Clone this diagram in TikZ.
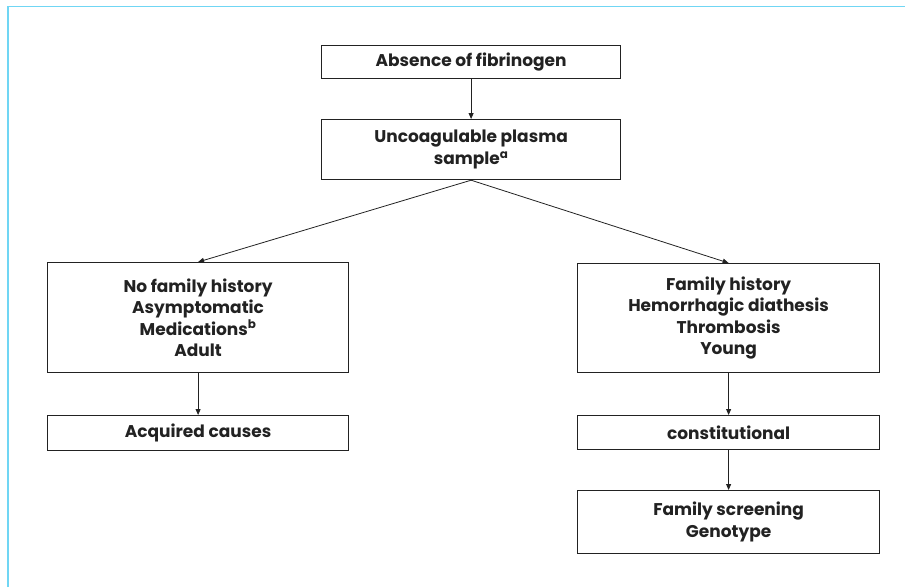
\documentclass[tikz,border=0pt]{standalone}
\usepackage{fontspec}
\setmainfont{Poppins}
\usepackage{tikz}
\usetikzlibrary{arrows.meta}
\usetikzlibrary{positioning}
\definecolor{framecyan}{RGB}{112,214,244}
\definecolor{inkgray}{RGB}{34,34,34}

\begin{document}
\begin{tikzpicture}[x=1pt,y=-1pt,
        box/.style={draw=inkgray, line width=1.2pt, fill=white, text=inkgray,
            font=\bfseries\fontsize{17}{21.5}\selectfont, align=center,
            inner sep=0pt, anchor=north west},
        link/.style={draw=inkgray, line width=0.8pt, -{Triangle[length=6pt,width=5pt]}}]
        \useasboundingbox (0,0) rectangle (905,587);
        \draw[framecyan, line width=1.6pt] (8,587) -- (8,6.5) -- (905,6.5);
        \node[box, minimum width=299pt, minimum height=33pt] (absence) at (321,45) {Absence of fibrinogen};
        \node[box, minimum width=299pt, minimum height=60pt] (sample) at (321,119) {Uncoagulable plasma\\sample\textsuperscript{a}};
        \node[box, minimum width=301pt, minimum height=110pt] (nohist) at (47,262) {No family history\\Asymptomatic\\Medications\textsuperscript{b}\\Adult};
        \node[box, minimum width=301pt, minimum height=35pt] (acquired) at (47,415) {Acquired causes};
        \node[box, minimum width=302pt, minimum height=109pt] (famhist) at (577,263) {Family history\\Hemorrhagic diathesis\\Thrombosis\\Young};
        \node[box, minimum width=302pt, minimum height=34pt] (constit) at (577,415) {constitutional};
        \node[box, minimum width=302pt, minimum height=63pt] (screening) at (577,490) {Family screening\\Genotype};
        \draw[link] (absence) -- (sample);
        \draw[link] (sample.south) -- (nohist.north);
        \draw[link] (sample.south) -- (famhist.north);
        \draw[link] (nohist) -- (acquired);
        \draw[link] (famhist) -- (constit);
        \draw[link] (constit) -- (screening);
    \end{tikzpicture}
\end{document}
